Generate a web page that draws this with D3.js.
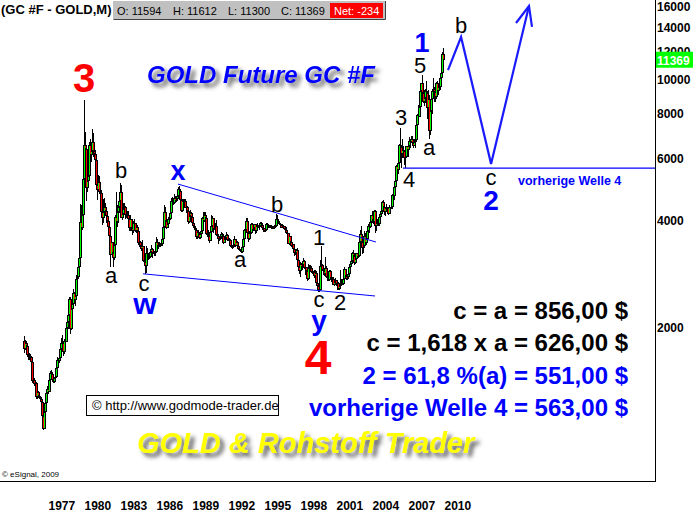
<!DOCTYPE html>
<html><head><meta charset="utf-8">
<script src="https://cdn.jsdelivr.net/npm/d3@7"></script>
<style>body{margin:0;background:#fff}svg{display:block;font-family:Arial,"Liberation Sans",sans-serif}</style>
</head><body>
<svg id="c" width="694" height="513"></svg>
<script>
// ---------- DATA (monthly gold futures, USD; axis shows value x10) ----------
const startYear = 1975;
const firstOpen = 184;
const closes = [
175,181,178,168,166,165,166,160,142,143,139,140,
128,132,129,128,126,124,113,104,116,123,131,135,
132,143,149,148,143,141,145,146,154,162,161,165,
175,182,181,171,184,183,200,208,217,242,199,226,
233,251,240,246,275,279,296,315,397,382,415,524,
653,637,494,518,535,653,614,631,666,629,619,594,
506,489,514,481,480,423,408,425,437,427,414,400,
384,362,320,349,326,315,342,411,397,423,437,456,
482,409,419,432,438,416,422,415,406,382,405,382,
375,394,394,376,385,374,346,349,341,334,341,309,
306,299,325,321,316,317,328,334,326,325,325,327,
350,339,344,346,343,345,357,385,423,401,383,391,
405,405,420,454,453,449,465,454,461,469,492,486,
458,426,456,450,456,436,437,428,397,412,422,410,
394,387,383,377,361,373,368,359,367,376,408,401,
415,407,368,368,363,352,372,387,408,380,384,386,
366,362,355,357,360,368,362,347,355,358,366,353,
354,353,341,337,337,343,357,340,349,339,334,333,
330,328,337,355,378,378,401,371,355,369,370,391,
378,381,391,376,387,388,384,386,395,389,383,383,
376,377,393,390,385,387,384,382,384,382,387,387,
405,400,396,391,390,382,386,386,379,378,371,369,
345,363,349,340,345,334,326,325,332,311,296,290,
303,297,301,309,294,297,289,274,294,292,294,288,
287,287,280,286,268,262,255,255,299,300,292,290,
284,294,279,276,273,289,277,279,274,265,270,273,
266,267,258,263,266,270,266,274,293,280,275,279,
283,297,303,309,326,318,305,312,324,317,318,348,
368,349,335,339,364,347,355,376,386,385,398,417,
403,398,427,388,395,394,392,410,418,428,453,438,
423,436,430,436,418,437,431,437,473,471,497,518,
570,558,584,655,645,616,635,628,601,606,648,635,
652,672,669,681,661,652,668,676,747,795,786,838,
926,975,917,865,886,930,915,833,884,718,815,884,
928,942,923,891,980,927,955,955,1008,1040,1182,1137
];
const highs = [
190,185,184,179,172,170,169,167,160,148,145,142,
141,134,133,130,129,127,125,113,117,125,132,137,
137,144,151,152,150,144,146,147,156,166,163,166,
176,187,191,181,186,188,201,216,220,245,245,228,
238,258,253,248,282,285,303,318,447,445,418,530,
873,713,646,561,556,665,680,638,725,707,655,633,
600,565,540,534,500,489,432,460,465,450,430,418,
405,387,366,355,350,330,360,416,482,443,450,465,
511,505,435,448,448,442,432,428,428,410,415,406,
386,400,405,394,395,389,376,360,352,346,354,341,
310,310,340,336,322,321,331,342,336,330,329,330,
360,355,350,350,347,347,360,390,443,438,410,396,
411,411,422,464,468,460,475,470,467,482,500,502,
488,461,461,462,462,462,445,442,432,415,430,425,
412,396,394,386,382,376,378,372,370,380,411,425,
424,423,410,378,378,363,375,417,414,408,385,396,
403,370,367,362,363,372,371,365,358,362,372,368,
359,358,355,344,341,345,362,357,351,351,340,338,
334,334,339,361,380,383,409,408,372,375,386,394,
396,386,392,392,389,396,389,388,398,397,389,386,
381,380,395,396,393,389,389,389,387,387,390,392,
418,417,402,397,394,393,391,390,386,384,384,375,
370,366,358,349,349,345,334,332,334,336,314,298,
307,305,302,315,311,300,297,290,302,301,300,299,
294,290,291,292,290,268,264,259,310,340,302,293,
292,316,298,289,280,292,291,282,279,274,273,276,
272,268,269,266,292,275,270,279,296,293,279,281,
286,300,305,311,327,331,320,314,326,325,325,348,
377,386,353,342,376,369,361,377,391,391,399,417,
428,417,429,430,397,404,398,415,419,432,455,458,
439,438,447,437,437,443,437,450,475,485,498,541,
575,577,589,660,732,647,680,648,631,614,651,644,
658,691,673,695,692,672,682,681,748,798,848,840,
936,976,1033,925,936,943,990,915,935,904,832,888,
930,1007,955,918,984,990,960,963,1023,1072,1195,1227
];
const lows = [
170,173,176,166,162,162,163,157,140,139,137,137,
126,126,127,126,124,123,110,103,104,115,122,130,
130,132,142,146,141,140,140,143,146,153,157,159,
165,172,179,167,169,181,183,201,199,216,192,198,
220,232,235,230,245,272,280,283,315,355,377,413,
520,613,454,483,495,525,604,586,623,604,605,541,
495,459,482,476,458,410,390,395,425,420,395,391,
370,357,297,320,315,297,311,334,385,385,395,420,
438,407,402,412,428,405,408,404,403,374,376,378,
365,370,387,372,371,372,342,337,337,330,325,307,
300,284,285,314,311,312,316,320,314,323,319,318,
327,335,333,337,338,339,341,353,382,398,380,383,
392,399,403,418,442,445,447,450,453,455,466,480,
452,425,425,446,447,434,420,425,393,395,409,405,
392,384,380,375,356,356,366,357,355,365,376,398,
397,405,366,360,359,346,353,372,384,371,378,379,
365,358,345,352,355,357,359,344,346,355,356,351,
351,351,339,336,334,337,343,338,339,339,331,331,
327,326,326,336,355,365,378,367,350,354,366,370,
375,374,378,367,371,378,381,377,385,387,378,373,
372,373,374,385,383,382,382,380,380,380,380,382,
387,398,392,390,389,381,381,384,378,375,370,366,
344,342,345,337,338,334,318,320,320,308,290,284,
278,294,291,298,293,281,287,271,273,288,290,285,
283,286,276,280,268,257,252,252,254,294,290,282,
280,283,276,271,271,271,276,270,271,264,263,269,
263,256,255,255,262,265,264,264,270,277,272,272,
277,283,290,299,309,313,301,302,311,314,314,318,
345,346,323,326,336,344,342,354,369,370,382,395,
395,391,398,371,375,387,387,387,404,410,421,434,
416,413,426,421,417,418,418,431,433,468,458,490,
515,537,543,582,643,562,603,608,573,562,604,609,
606,650,640,667,655,640,651,643,675,723,777,785,
838,880,904,858,845,858,910,773,736,681,699,750,
800,916,866,866,884,915,905,932,933,998,1040,1130
];
const yTickLabels = [2000,4000,6000,8000,10000,12000,14000,16000];
const xTickYears = [1977,1980,1983,1986,1989,1992,1995,1998,2001,2004,2007,2010];
const quoteLabels = ["O: 11594","H: 11612","L: 11300","C: 11369"];
const netLabel = "Net: -234";
const lastValue = 11369;
// annotation lines, [year, USD]
const upperTrend = [[1987.83,508],[2004.33,349]];
const lowerTrend = [[1984.92,284],[2004.25,246]];
const projection = [[2010.33,1063],[2011.42,1317],[2013.92,579],[2017.08,1610]];
const arrowHead = [[2016.0,1442],[2017.08,1610],[2017.33,1406]];
const prevWave4 = [[2006.58,563],[2027.58,563]];
const infoLines = [
  {t:"c = a = 856,00 $", c:"#000"},
  {t:"c = 1,618 x a = 626,00 $", c:"#000"},
  {t:"2 = 61,8 %(a) = 551,00 $", c:"#0000ff"},
  {t:"vorherige Welle 4 = 563,00 $", c:"#0000ff"}
];

// ---------- SCALES ----------
const W = 655, H = 481;
const x = d3.scaleLinear().domain([1973.0, 2027.58]).range([0, W]);
const y = d3.scaleLog().domain([74.2, 1674]).range([H, 0]);
const svg = d3.select("#c");

const defs = svg.append("defs");
const f = defs.append("filter").attr("id","sh").attr("x","-10%").attr("y","-40%").attr("width","130%").attr("height","200%");
f.append("feGaussianBlur").attr("in","SourceAlpha").attr("stdDeviation",2.2).attr("result","b");
f.append("feOffset").attr("in","b").attr("dx",4).attr("dy",4).attr("result","o");
f.append("feFlood").attr("flood-color","#444").attr("flood-opacity",0.85);
f.append("feComposite").attr("in2","o").attr("operator","in");
const m = f.append("feMerge"); m.append("feMergeNode"); m.append("feMergeNode").attr("in","SourceGraphic");

// ---------- CANDLES ----------
const bars = closes.map((c,i)=>{
  const o = i===0 ? firstOpen : closes[i-1];
  return {t: startYear + i/12, o, c, h: Math.max(highs[i],o,c), l: Math.min(lows[i],o,c)};
});
bars.forEach(b=>{
  b.cx = Math.round(x(b.t));
  b.top = Math.round(y(Math.max(b.o,b.c)));
  b.bot = Math.round(y(Math.min(b.o,b.c)));
});
const cg = svg.append("g");
cg.selectAll("line.w").data(bars).join("line").attr("class","w")
  .attr("x1",d=>d.cx+0.5).attr("x2",d=>d.cx+0.5)
  .attr("y1",d=>Math.round(y(d.h))).attr("y2",d=>Math.round(y(d.l)))
  .attr("stroke","#000").attr("stroke-width",1);
cg.selectAll("rect.o").data(bars).join("rect").attr("class","o")
  .attr("x",d=>d.cx-1).attr("y",d=>d.top).attr("width",3).attr("height",d=>Math.max(1,d.bot-d.top))
  .attr("fill","#000");
cg.selectAll("rect.f").data(bars.filter(d=>d.bot-d.top>2)).join("rect").attr("class","f")
  .attr("x",d=>d.cx).attr("y",d=>d.top+1).attr("width",1).attr("height",d=>d.bot-d.top-2)
  .attr("fill",d=>d.c>=d.o ? "#00ff00" : "#ff0000");

// ---------- ANNOTATION LINES ----------
const line = d3.line().x(d=>x(d[0])).y(d=>y(d[1]));
svg.append("path").attr("d",line(upperTrend)).attr("fill","none").attr("stroke","#0000ff").attr("stroke-width",1);
svg.append("path").attr("d",line(lowerTrend)).attr("fill","none").attr("stroke","#0000ff").attr("stroke-width",1);
svg.append("path").attr("d",line(prevWave4)).attr("fill","none").attr("stroke","#0000ff").attr("stroke-width",1.2);
svg.append("path").attr("d",line(projection)).attr("fill","none").attr("stroke","#1a1aff").attr("stroke-width",2.2);
svg.append("path").attr("d",line(arrowHead)).attr("fill","none").attr("stroke","#1a1aff").attr("stroke-width",2.2);

// ---------- AXES ----------
svg.append("line").attr("x1",W+0.5).attr("x2",W+0.5).attr("y1",0).attr("y2",H+0.5).attr("stroke","#000");
svg.append("line").attr("x1",0).attr("x2",W+1).attr("y1",H+0.5).attr("y2",H+0.5).attr("stroke","#000");
const ya = svg.append("g").attr("transform",`translate(${W},0)`)
  .call(d3.axisRight(y).tickValues(yTickLabels.map(v=>v/10)).tickFormat(v=>String(Math.round(v*10))).tickSize(0).tickPadding(2));
ya.select(".domain").remove();
ya.selectAll("text").attr("font-size",12).attr("font-weight","bold").attr("font-family","Arial, sans-serif").attr("fill","#000");
const ly = y(lastValue/10);
svg.append("rect").attr("x",W+1).attr("y",ly-8).attr("width",37).attr("height",16).attr("fill","#00ff00");
svg.append("text").attr("x",W+2).attr("y",ly+5).attr("fill","#fff").attr("font-size",12).attr("font-weight","bold").text(lastValue);

const xa = svg.append("g").attr("transform",`translate(0,${H})`)
  .call(d3.axisBottom(x).tickValues(xTickYears).tickFormat(d3.format("d")).tickSize(0).tickPadding(0));
xa.select(".domain").remove();
xa.selectAll("text").attr("text-anchor","start").attr("y",29).attr("dy",0).attr("font-size",12).attr("font-weight","bold").attr("font-family","Arial, sans-serif").attr("fill","#000");

svg.append("text").attr("x",2).attr("y",477).attr("font-size",8).text("© eSignal, 2009");

// ---------- HEADER ----------
svg.append("text").attr("x",1).attr("y",14).attr("font-size",13).attr("font-weight","bold").text("(GC #F - GOLD,M)");
svg.append("rect").attr("x",113).attr("y",1).attr("width",272).attr("height",18).attr("fill","#c0c0c0");
svg.append("path").attr("d","M113.5,19.5H385.5V1").attr("fill","none").attr("stroke","#404040");
svg.append("rect").attr("x",330).attr("y",3).attr("width",53).attr("height",15).attr("fill","#ff0000");
const qx = [117,173,228,281];
quoteLabels.forEach((q,i)=>svg.append("text").attr("x",qx[i]).attr("y",15).attr("font-size",11).text(q));
svg.append("text").attr("x",334).attr("y",15).attr("font-size",11).attr("fill","#fff").text(netLabel);

// ---------- TITLES ----------
svg.append("text").attr("x",147).attr("y",83).attr("font-size",24).attr("font-weight","bold").attr("font-style","italic")
  .attr("fill","#0000ff").attr("filter","url(#sh)").text("GOLD Future GC #F");
svg.append("text").attr("x",137).attr("y",453).attr("font-size",29).attr("font-weight","bold").attr("font-style","italic")
  .attr("fill","#ffff00").attr("filter","url(#sh)").text("GOLD & Rohstoff Trader");

// copyright box
svg.append("rect").attr("x",86.5).attr("y",395.5).attr("width",192).attr("height",20).attr("fill","#fff").attr("stroke","#000");
svg.append("text").attr("x",92).attr("y",410).attr("font-size",13).text("©  http://www.godmode-trader.de");

// ---------- WAVE LABELS ----------
const labels = [
  ["3",84,92,40,"bold","#ff0000"],
  ["b",121,178,22,"normal","#000"],
  ["a",111,283,22,"normal","#000"],
  ["c",144,291,22,"normal","#000"],
  ["w",145,314,30,"bold","#0000ff"],
  ["x",178,180,27,"bold","#0000ff"],
  ["a",240,267,22,"normal","#000"],
  ["b",277,212,22,"normal","#000"],
  ["1",319,245,22,"normal","#000"],
  ["c",319,307,22,"normal","#000"],
  ["2",340,310,22,"normal","#000"],
  ["y",319,330,28,"bold","#0000ff"],
  ["4",318,374,48,"bold","#ff0000"],
  ["3",401,125,22,"normal","#000"],
  ["5",420,73,22,"normal","#000"],
  ["1",422,52,27,"bold","#0000ff"],
  ["a",429,155,22,"normal","#000"],
  ["4",409,187,22,"normal","#000"],
  ["b",461,33,22,"normal","#000"],
  ["c",491,185,22,"normal","#000"],
  ["2",491,210,28,"bold","#0000ff"]
];
labels.forEach(l=>svg.append("text").attr("x",l[1]).attr("y",l[2]).attr("text-anchor","middle")
  .attr("font-size",l[3]).attr("font-weight",l[4]).attr("fill",l[5]).text(l[0]));
svg.append("text").attr("x",518).attr("y",185).attr("font-size",12.5).attr("font-weight","bold").attr("fill","#0000ff").text("vorherige Welle 4");

const by = [319,351,384,416];
infoLines.forEach((d,i)=>svg.append("text").attr("x",628).attr("y",by[i]).attr("text-anchor","end")
  .attr("font-size",24).attr("font-weight","bold").attr("fill",d.c).text(d.t));
</script>
</body></html>
